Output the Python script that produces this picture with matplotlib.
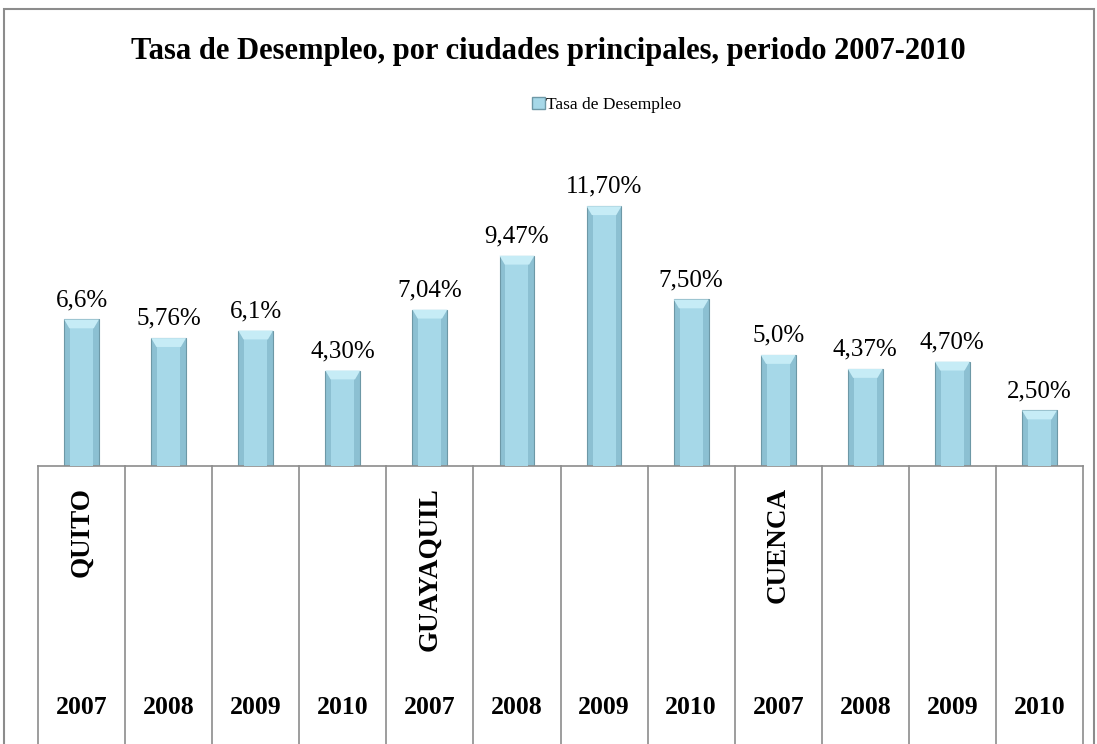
import matplotlib.pyplot as plt
from matplotlib.patches import Rectangle, Polygon
from matplotlib.transforms import blended_transform_factory

plt.rcParams['font.family'] = ['Liberation Serif', 'DejaVu Serif']

years = ['2007', '2008', '2009', '2010'] * 3
cities = ['QUITO', 'GUAYAQUIL', 'CUENCA']
rates = [6.6, 5.76, 6.1, 4.30, 7.04, 9.47, 11.70, 7.50, 5.0, 4.37, 4.70, 2.50]
rate_labels = ['6,6%', '5,76%', '6,1%', '4,30%', '7,04%', '9,47%', '11,70%',
               '7,50%', '5,0%', '4,37%', '4,70%', '2,50%']

fig = plt.figure(figsize=(10.97, 7.44), dpi=100)
ax = fig.add_axes([38 / 1097, 1 - 466 / 744, (1083 - 38) / 1097, 0.388])

x = list(range(len(rates)))
w = 0.40
ax.bar(x, rates, width=w, color='#8cc0d2', edgecolor='#6d98a6', linewidth=0.8, zorder=2)
# lighter centre to fake the bevelled look
ax.bar(x, [r - 0.25 for r in rates], width=w * 0.66, color='#a6d8e8', linewidth=0, zorder=3)
for xi, r in zip(x, rates):
    cap = Polygon([(xi - w / 2, r), (xi + w / 2, r), (xi + w / 2 - 0.06, r - 0.4),
                   (xi - w / 2 + 0.06, r - 0.4)], closed=True,
                  facecolor='#c6ecf6', edgecolor='none', zorder=4)
    ax.add_patch(cap)

for xi, r, lab in zip(x, rates, rate_labels):
    ax.text(xi, r + 0.38, lab, ha='center', va='bottom', fontsize=18, color='black')

ax.set_xlim(-0.5, len(rates) - 0.5)
ax.set_ylim(0, 13)
ax.axis('off')

# category table under the bars
tr = blended_transform_factory(ax.transData, fig.transFigure)
base = 1 - 466 / 744
ax.plot([-0.5, len(rates) - 0.5], [base, base], transform=tr, color='#8c8c8c',
        lw=1.2, clip_on=False)
for i in range(len(rates) + 1):
    ax.plot([i - 0.5, i - 0.5], [base, 0.0], transform=tr, color='#8c8c8c',
            lw=1.2, clip_on=False)
for xi, y in zip(x, years):
    ax.text(xi, 1 - 708 / 744, y, transform=tr, ha='center', va='center',
            fontsize=18.5, fontweight='bold')
for k, c in enumerate(cities):
    ax.text(k * 4, 1 - 487 / 744, c, transform=tr, ha='center', va='top',
            rotation=90, fontsize=19.5, fontweight='bold')

fig.text(0.5, 1 - 52 / 744, 'Tasa de Desempleo, por ciudades principales, periodo 2007-2010',
         ha='center', va='center', fontsize=22, fontweight='bold')

handle = Rectangle((0, 0), 1, 1, facecolor='#a6d8e8', edgecolor='#6d98a6')
fig.legend([handle], ['Tasa de Desempleo'], loc='center',
           bbox_to_anchor=(607 / 1097, 1 - 105 / 744),
           frameon=False, fontsize=12.5, handlelength=0.7, handleheight=0.7,
           handletextpad=0.1)

fig.patches.append(Rectangle((4 / 1097, -0.01), 1090 / 1097, 1 - 9 / 744 + 0.01,
                             transform=fig.transFigure, fill=False,
                             edgecolor='#8c8c8c', lw=1.5))

fig.savefig('out.png', dpi=100)
